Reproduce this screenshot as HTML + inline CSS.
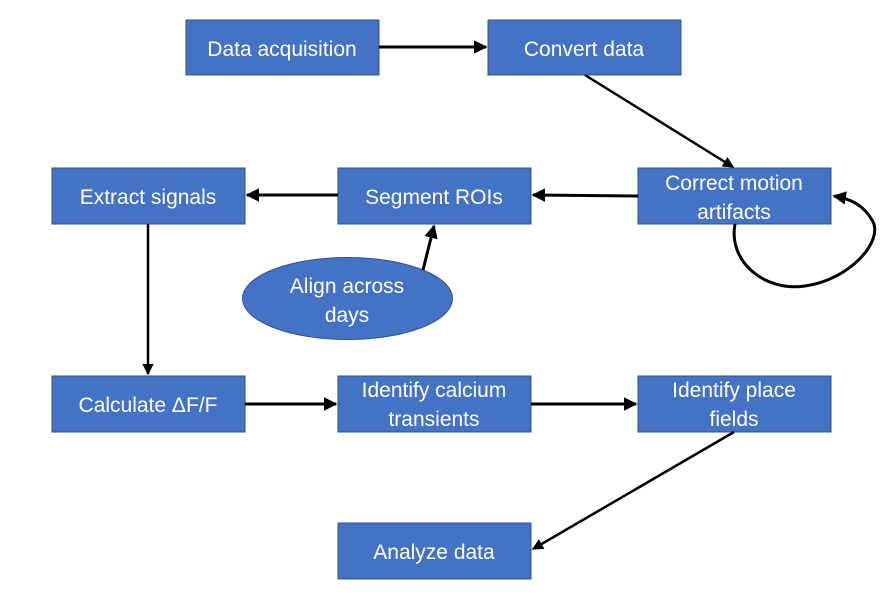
<!DOCTYPE html>
<html><head><meta charset="utf-8"><style>
html,body{margin:0;padding:0;background:#fff;}
svg{display:block;}
text{font-family:"Liberation Sans",sans-serif;font-size:21px;fill:#fff;text-anchor:middle;}
rect,ellipse{fill:#4472C4;stroke:#2F528F;stroke-width:1;}
.l{stroke:#000;stroke-width:3;fill:none;}
</style></head><body>
<svg width="889" height="600" viewBox="0 0 889 600">
<defs><marker id="a" markerWidth="4.5" markerHeight="4.5" refX="4" refY="2.25" orient="auto" markerUnits="strokeWidth"><path d="M0,0 L4.5,2.25 L0,4.5 z" fill="#000"/></marker></defs>
<rect x="186" y="20" width="193" height="55"/><text x="282" y="56">Data acquisition</text>
<rect x="488" y="20" width="193" height="55"/><text x="584" y="56">Convert data</text>
<rect x="638" y="168" width="193" height="56"/><text x="734" y="190">Correct motion</text><text x="734" y="219">artifacts</text>
<rect x="338" y="168" width="193" height="56"/><text x="434" y="204">Segment ROIs</text>
<rect x="52" y="168" width="193" height="56"/><text x="148" y="204">Extract signals</text>
<ellipse cx="347.5" cy="298.5" rx="105" ry="41"/><text x="347" y="293">Align across</text><text x="347" y="322">days</text>
<rect x="52" y="376" width="193" height="56"/><text x="148" y="412">Calculate ΔF/F</text>
<rect x="338" y="376" width="193" height="56"/><text x="434" y="397">Identify calcium</text><text x="434" y="426">transients</text>
<rect x="638" y="376" width="193" height="56"/><text x="734" y="397">Identify place</text><text x="734" y="426">fields</text>
<rect x="338" y="523" width="193" height="56"/><text x="434" y="559">Analyze data</text>
<line class="l" x1="379" y1="47" x2="486" y2="47" marker-end="url(#a)"/>
<line class="l" x1="585" y1="75" x2="733" y2="167" marker-end="url(#a)" style="stroke-width:2.5"/>
<line class="l" x1="638" y1="196" x2="533" y2="195" marker-end="url(#a)"/>
<line class="l" x1="338" y1="195" x2="247" y2="195" marker-end="url(#a)"/>
<line class="l" x1="423" y1="270" x2="434" y2="226" marker-end="url(#a)"/>
<line class="l" x1="148" y1="224" x2="148" y2="374" marker-end="url(#a)" style="stroke-width:2.5"/>
<line class="l" x1="245" y1="404" x2="336" y2="404" marker-end="url(#a)"/>
<line class="l" x1="531" y1="404" x2="636" y2="404" marker-end="url(#a)"/>
<line class="l" x1="734" y1="432" x2="533" y2="549" marker-end="url(#a)" style="stroke-width:2.5"/>
<path class="l" d="M735,224 C728,262 765,292 805,286 C850,280 885,240 872,220 C864,206 852,199 834,196" marker-end="url(#a)"/>
</svg>
</body></html>
